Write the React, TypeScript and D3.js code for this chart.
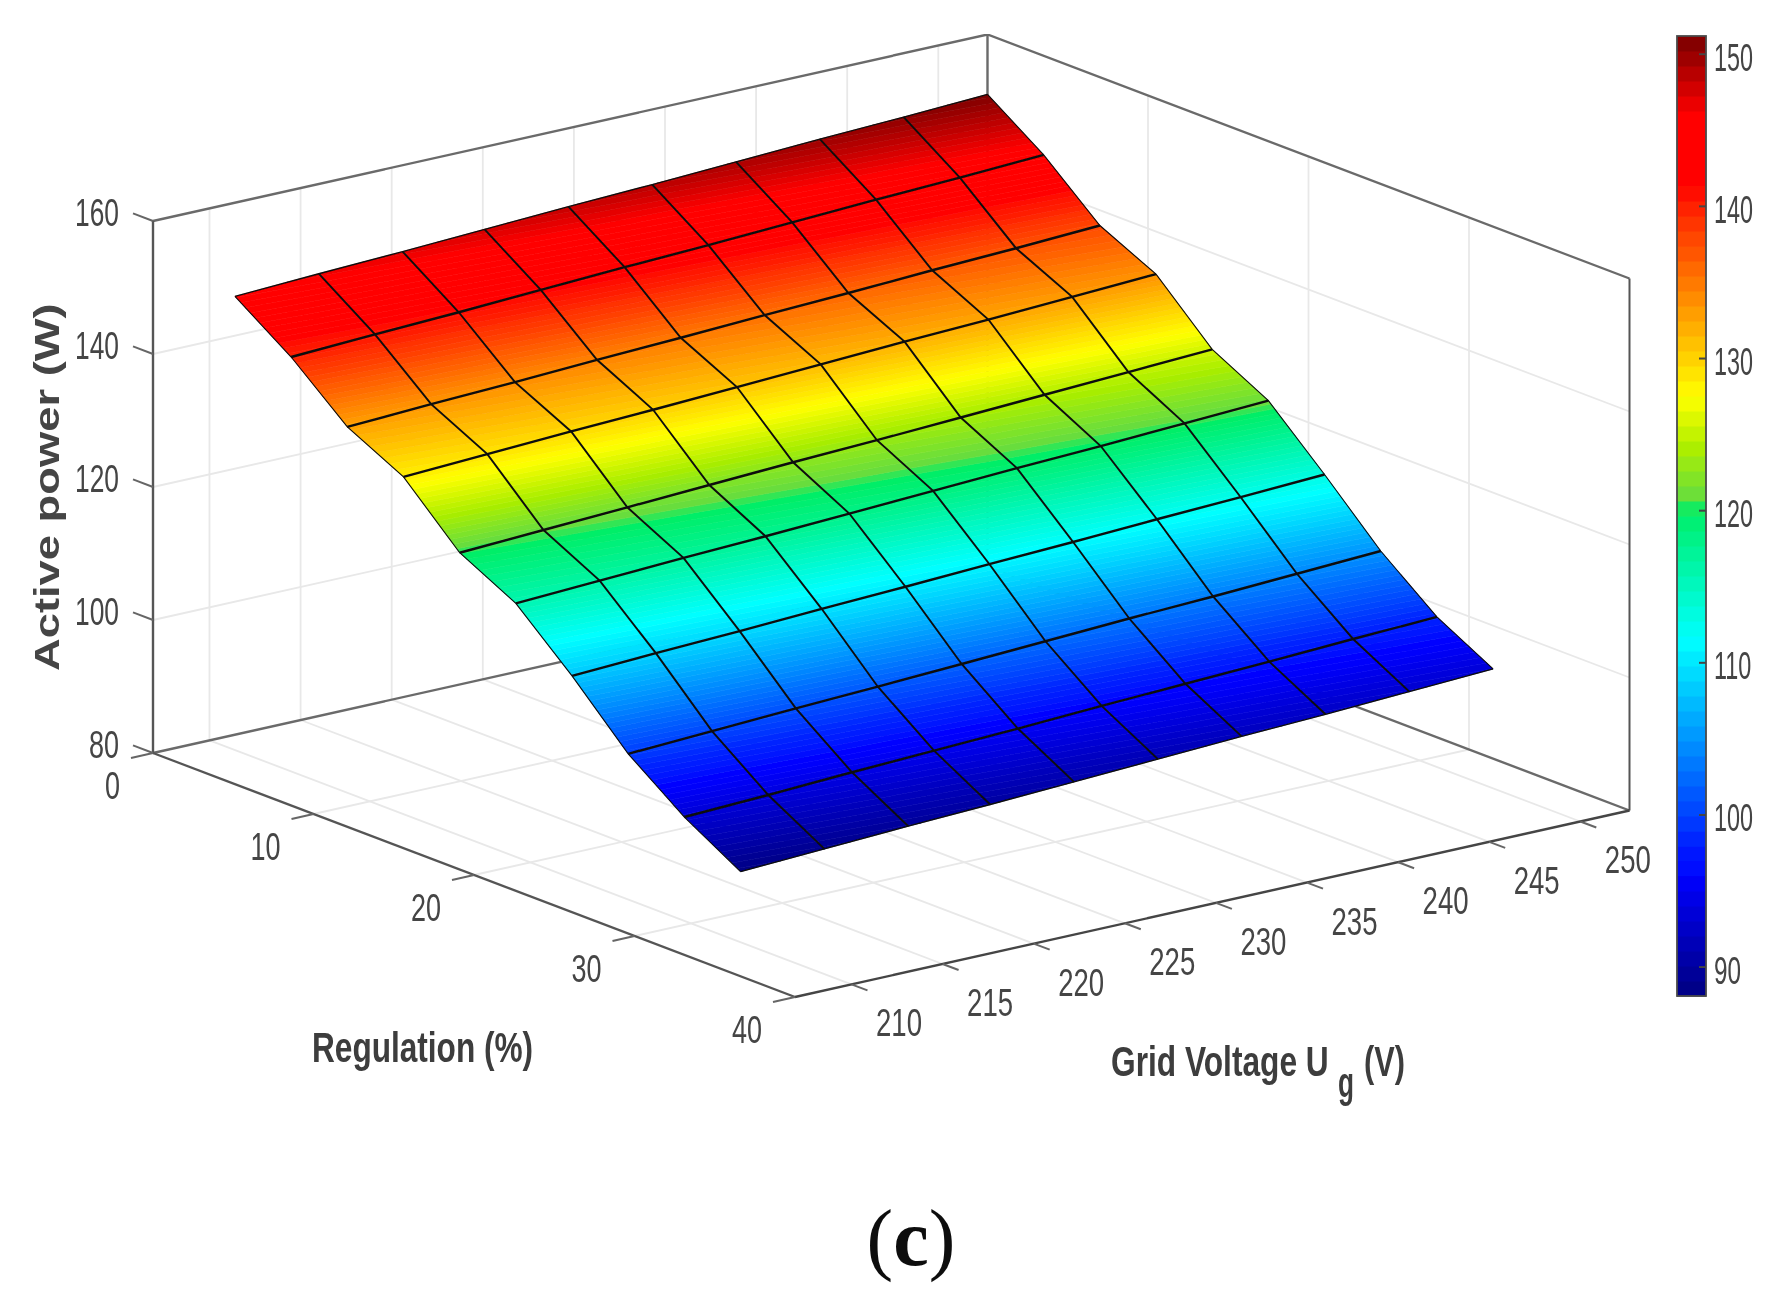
import React, { useMemo } from "react";
import * as d3 from "d3";

// values
const voltages = [211.4, 216.0, 220.6, 225.1, 229.7, 234.3, 238.9, 243.5, 248.1, 252.7];
const regulations = [0, 3.5, 7, 10.5, 14, 17.5, 21, 24.5, 28, 31.5];
const power = [
  [145.9, 146.5, 147.0, 147.6, 148.2, 148.7, 149.3, 149.9, 150.4, 151.0],
  [140.0, 140.6, 141.1, 141.7, 142.3, 142.8, 143.4, 144.0, 144.5, 145.1],
  [132.7, 133.3, 133.8, 134.4, 134.9, 135.5, 136.0, 136.6, 137.1, 137.7],
  [128.4, 129.0, 129.6, 130.1, 130.7, 131.3, 131.9, 132.4, 133.0, 133.6],
  [120.2, 120.8, 121.4, 122.0, 122.6, 123.1, 123.7, 124.3, 124.9, 125.5],
  [115.8, 116.4, 117.0, 117.5, 118.1, 118.7, 119.3, 119.8, 120.4, 121.0],
  [108.1, 108.7, 109.2, 109.8, 110.3, 110.9, 111.4, 112.0, 112.5, 113.1],
  [99.6, 100.2, 100.8, 101.3, 101.9, 102.5, 103.1, 103.6, 104.2, 104.8],
  [93.3, 93.8, 94.4, 94.9, 95.4, 96.0, 96.5, 97.0, 97.6, 98.1],
  [88.3, 88.9, 89.5, 90.0, 90.6, 91.2, 91.8, 92.3, 92.9, 93.5],
];
const voltageTicks = [210, 215, 220, 225, 230, 235, 240, 245, 250];
const regulationTicks = [0, 10, 20, 30, 40];
const powerTicks = [80, 100, 120, 140, 160];
const colorbarTicks = [90, 100, 110, 120, 130, 140, 150];
const colorStops = [88.1, 96, 111.5, 120, 120.8, 124, 127.5, 141.8, 146, 151.2];
const colorValues = ["#000080", "#0000ff", "#00ffff", "#00ee66", "#66dd40", "#aaee00", "#ffff00", "#ff0000", "#ff0000", "#780000"];

const W = 1773;
const H = 1304;
const BAR_LEVELS = 64;
const SURF_LEVELS = 128;
const cMin = 88.1;
const cMax = 151.2;

const A = { x: 153, y: 753 };
const F = { x: 795, y: 997 };
const R = { x: 1629.5, y: 810.5 };

const vFrac = d3.scaleLinear().domain([206.9, 252.7]).range([0, 1]);
const rFrac = d3.scaleLinear().domain([0, 40]).range([0, 1]);
const zLift = d3.scaleLinear().domain([80, 160]).range([0, -532]);
const jet = d3.scaleLinear<string>().domain(colorStops).range(colorValues).interpolate(d3.interpolateRgb).clamp(true);
const cbY = d3.scaleLinear().domain([cMin, cMax]).range([996, 36]);

const project = (v: number, r: number, z: number) => ({
  x: A.x + rFrac(r) * (F.x - A.x) + vFrac(v) * (R.x - F.x),
  y: A.y + rFrac(r) * (F.y - A.y) + vFrac(v) * (R.y - F.y) + zLift(z),
});

type P = { x: number; y: number; z: number };

// keep the part of a polygon on one side of a z level
const clip = (poly: P[], level: number, keepAbove: boolean) => {
  const out: P[] = [];
  poly.forEach((p, i) => {
    const q = poly[(i + 1) % poly.length];
    const pIn = keepAbove ? p.z >= level : p.z <= level;
    const qIn = keepAbove ? q.z >= level : q.z <= level;
    if (pIn) out.push(p);
    if (pIn !== qIn) {
      const t = (level - p.z) / (q.z - p.z);
      out.push({ x: p.x + t * (q.x - p.x), y: p.y + t * (q.y - p.y), z: level });
    }
  });
  return out;
};

const levelLo = (k: number, n: number) => cMin + (k / n) * (cMax - cMin);
const levelColor = (k: number, n: number) => jet(levelLo(k + 0.5, n));

const pt = (i: number, j: number): P => ({
  ...project(voltages[j], regulations[i], power[i][j]),
  z: power[i][j],
});

const FONT = "'Liberation Sans', Arial, sans-serif";

// the figure's text is stretched, so every label carries its own x scale
const Txt = ({ x, y, sx, size = 43, fill = "#3c3c3c", children }: any) => (
  <text
    transform={`translate(${x},${y}) scale(${sx},1)`}
    fontFamily={FONT}
    fontSize={size}
    fontWeight="bold"
    fill={fill}
  >
    {children}
  </text>
);

// digits are 0.556em wide
const Num = ({ x, y, w, anchor = "middle", children }: any) => {
  const size = 39;
  const sx = w / (String(children).length * 0.556 * size);
  return (
    <text
      transform={`translate(${x},${y}) scale(${sx},1)`}
      fontFamily={FONT}
      fontSize={size}
      fill="#454545"
      textAnchor={anchor}
    >
      {children}
    </text>
  );
};

const seg = (a: { x: number; y: number }, b: { x: number; y: number }) => ({ x1: a.x, y1: a.y, x2: b.x, y2: b.y });

export default function App() {
  const bands = useMemo(() => {
    const paths = d3.range(SURF_LEVELS).map(() => d3.path());
    for (let i = 0; i < regulations.length - 1; i++) {
      for (let j = 0; j < voltages.length - 1; j++) {
        const a = pt(i, j);
        const b = pt(i, j + 1);
        const c = pt(i + 1, j + 1);
        const d = pt(i + 1, j);
        [[a, b, c], [a, c, d]].forEach((tri) => {
          paths.forEach((path, k) => {
            let poly = clip(tri, levelLo(k, SURF_LEVELS), true);
            if (poly.length) poly = clip(poly, levelLo(k + 1, SURF_LEVELS), false);
            if (poly.length < 3) return;
            path.moveTo(poly[0].x, poly[0].y);
            poly.slice(1).forEach((p) => path.lineTo(p.x, p.y));
            path.closePath();
          });
        });
      }
    }
    return paths.map((p) => p.toString());
  }, []);

  const line = d3.line<{ x: number; y: number }>().x((d) => d.x).y((d) => d.y);
  const vMin = 206.9;
  const vMax = 252.7;
  const gridStyle = { stroke: "#e8e8e8", strokeWidth: 1.8, fill: "none" };
  const boxStyle = { stroke: "#6a6a6a", strokeWidth: 2.4 };
  const tickStyle = { stroke: "#666", strokeWidth: 2 };

  return (
    <svg width={W} height={H} style={{ position: "absolute", left: 0, top: 0, background: "#fff" }}>
      <defs>
        <filter id="soft" x="0" y="0" width="100%" height="100%">
          <feGaussianBlur stdDeviation="0.6" />
        </filter>
      </defs>
      <g filter="url(#soft)">
        {/* grid on walls and floor */}
        {voltageTicks.map((v) => (
          <g key={v} style={gridStyle}>
            <line {...seg(project(v, 0, 80), project(v, 0, 160))} />
            <line {...seg(project(v, 0, 80), project(v, 40, 80))} />
          </g>
        ))}
        {regulationTicks.slice(1, -1).map((r) => (
          <g key={r} style={gridStyle}>
            <line {...seg(project(vMax, r, 80), project(vMax, r, 160))} />
            <line {...seg(project(vMin, r, 80), project(vMax, r, 80))} />
          </g>
        ))}
        {powerTicks.slice(1, -1).map((z) => (
          <path
            key={z}
            style={gridStyle}
            d={line([project(vMin, 0, z), project(vMax, 0, z), project(vMax, 40, z)]) as string}
          />
        ))}

        {/* box */}
        <path
          d={line([project(vMin, 0, 160), project(vMax, 0, 160), project(vMax, 40, 160)]) as string}
          fill="none"
          {...boxStyle}
        />
        <line {...seg(project(vMax, 0, 80), project(vMax, 0, 160))} {...boxStyle} />
        <path
          d={line([project(vMin, 0, 80), project(vMax, 0, 80), project(vMax, 40, 80)]) as string}
          fill="none"
          {...boxStyle}
        />
        <line {...seg(project(vMin, 0, 80), project(vMin, 0, 160))} stroke="#555" strokeWidth={2.4} />
        <line {...seg(project(vMax, 40, 80), project(vMax, 40, 160))} stroke="#555" strokeWidth={2} />
        <line {...seg(project(vMin, 0, 80), project(vMin, 40, 80))} stroke="#555" strokeWidth={2.4} />
        <line {...seg(project(vMin, 40, 80), project(vMax, 40, 80))} stroke="#444" strokeWidth={2.4} />

        {/* ticks */}
        {powerTicks.map((z) => {
          const p = project(vMin, 0, z);
          return <line key={z} x1={p.x} y1={p.y} x2={p.x - 20} y2={p.y - 7.6} {...tickStyle} />;
        })}
        {regulationTicks.map((r) => {
          const p = project(vMin, r, 80);
          return <line key={r} x1={p.x} y1={p.y} x2={p.x - 22} y2={p.y + 5} {...tickStyle} />;
        })}
        {voltageTicks.map((v) => {
          const p = project(v, 40, 80);
          return <line key={v} x1={p.x} y1={p.y} x2={p.x + 16} y2={p.y + 6} {...tickStyle} />;
        })}

        {/* surface */}
        {bands.map((d, k) =>
          d ? <path key={k} d={d} fill={levelColor(k, SURF_LEVELS)} stroke={levelColor(k, SURF_LEVELS)} strokeWidth={0.6} /> : null
        )}
        {regulations.map((r, i) => (
          <path
            key={r}
            d={line(voltages.map((_, j) => pt(i, j))) as string}
            fill="none"
            stroke="#0c0c0c"
            strokeWidth={i === 0 || i === regulations.length - 1 ? 1.4 : 2.4}
          />
        ))}
        {voltages.map((v, j) => (
          <path
            key={v}
            d={line(regulations.map((_, i) => pt(i, j))) as string}
            fill="none"
            stroke="#0c0c0c"
            strokeWidth={j === 0 || j === voltages.length - 1 ? 1.1 : 1.9}
          />
        ))}

        {/* colorbar */}
        {d3.range(BAR_LEVELS).map((k) => (
          <rect
            key={k}
            x={1677}
            width={29}
            y={cbY(levelLo(k + 1, BAR_LEVELS))}
            height={cbY(levelLo(k, BAR_LEVELS)) - cbY(levelLo(k + 1, BAR_LEVELS)) + 0.5}
            fill={levelColor(k, BAR_LEVELS)}
          />
        ))}
        <rect x={1677} y={36} width={29} height={960} fill="none" stroke="#4a4a4a" strokeWidth={1.8} />
        {colorbarTicks.map((t) => (
          <line key={t} x1={1699} x2={1706} y1={cbY(t)} y2={cbY(t)} stroke="#444" strokeWidth={2} />
        ))}

        {/* tick labels */}
        {powerTicks.map((z) => {
          const p = project(vMin, 0, z);
          return (
            <Num key={z} x={119} y={p.y + 4.5} w={z >= 100 ? 44 : 30} anchor="end">
              {z}
            </Num>
          );
        })}
        {regulationTicks.map((r) => {
          const p = project(vMin, r, 80);
          return (
            <Num key={r} x={p.x - 33} y={r === 0 ? 799 : p.y + 46} w={r === 0 ? 15 : 30} anchor="end">
              {r}
            </Num>
          );
        })}
        {voltageTicks.map((v) => {
          const p = project(v, 40, 80);
          return (
            <Num key={v} x={p.x + 47.5} y={p.y + 52} w={46}>
              {v}
            </Num>
          );
        })}
        {colorbarTicks.map((t) => (
          <Num key={t} x={1714} y={cbY(t) + 16.5} w={t >= 100 ? 39 : 27} anchor="start">
            {t}
          </Num>
        ))}

        {/* axis titles */}
        <g transform="translate(59,671) rotate(-90)">
          <Txt x={0} y={0} sx={1.295} size={35} fill="#454545">
            Active power (W)
          </Txt>
        </g>
        <Txt x={312} y={1062} sx={0.735}>
          Regulation (%)
        </Txt>
        <Txt x={1111} y={1076} sx={0.737}>
          Grid Voltage U
        </Txt>
        <Txt x={1338} y={1097} sx={0.61}>
          g
        </Txt>
        <Txt x={1364} y={1076} sx={0.715}>
          (V)
        </Txt>

        {/* panel caption */}
        <text x={911} y={1265} textAnchor="middle" fontFamily="'Liberation Serif', serif" fontSize={80} fill="#111">
          (<tspan fontWeight="bold">c</tspan>)
        </text>
      </g>
    </svg>
  );
}
